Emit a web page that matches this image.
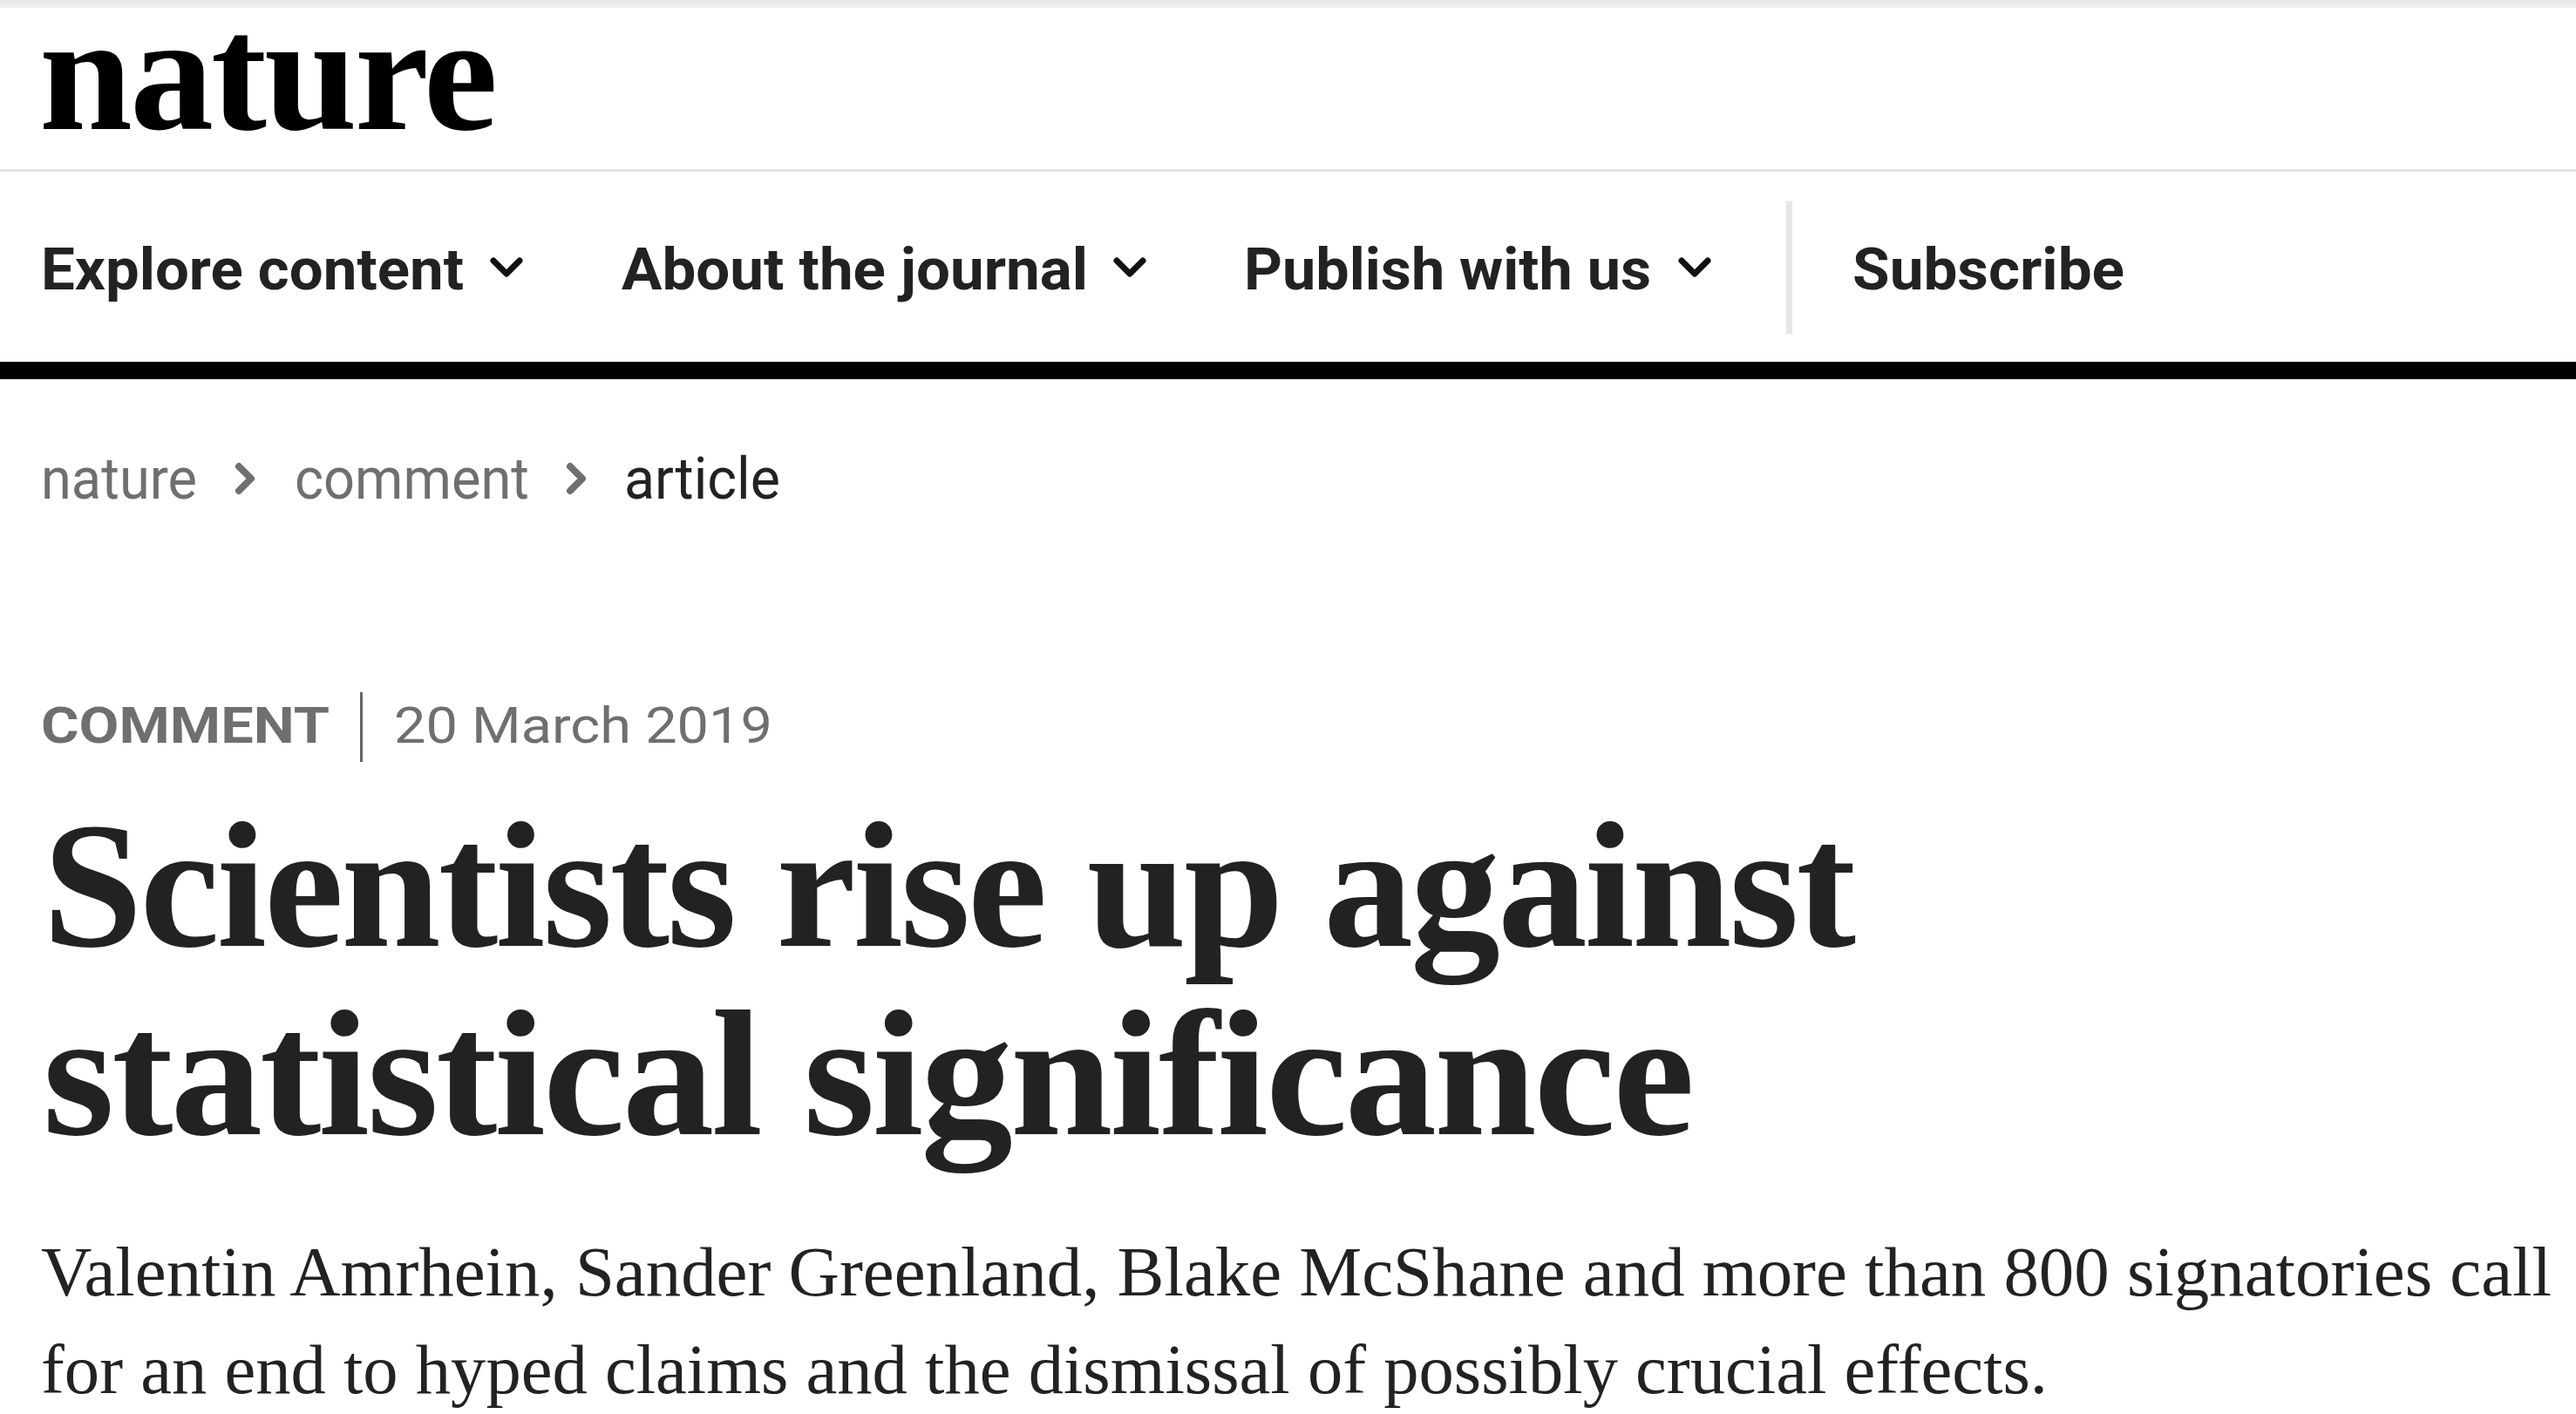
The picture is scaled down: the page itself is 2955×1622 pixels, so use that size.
<!DOCTYPE html>
<html>
<head>
<meta charset="utf-8">
<script src="https://cdn.jsdelivr.net/npm/chart.js@4.4.1/dist/chart.umd.min.js"></script>
<style>
  html, body { margin: 0; padding: 0; background: #fff; }
  body { width: 2955px; height: 1622px; position: relative; overflow: hidden; }
  .t { position: absolute; white-space: nowrap; transform-origin: 0 0; line-height: 1; }
  .logo { font-family: "Liberation Serif", serif; font-weight: 700; font-size: 190px; color: #000; letter-spacing: -3px; line-height: 0.72; }
  .nav { font-family: Roboto, "Liberation Sans", sans-serif; font-weight: 700; font-size: 67px; color: #222; }
  .crumb { font-family: Roboto, "Liberation Sans", sans-serif; font-weight: 400; font-size: 66px; color: #6f6f6f; }
  .crumb.cur { color: #222; }
  .kind { font-family: Roboto, "Liberation Sans", sans-serif; font-weight: 700; font-size: 57px; color: #6f6f6f; }
  .date { font-family: Roboto, "Liberation Sans", sans-serif; font-weight: 400; font-size: 57px; color: #6f6f6f; }
  .title { font-family: "Liberation Serif", serif; font-weight: 700; font-size: 206px; color: #222; letter-spacing: -3px; }
  .stand { font-family: "Liberation Serif", serif; font-weight: 400; font-size: 80px; color: #222; }
  .box { position: absolute; }
</style>
</head>
<body>
<script>
// page texts
var logoText = 'nature';
var navItems = ['Explore content', 'About the journal', 'Publish with us', 'Subscribe'];
var navHasMenu = [true, true, true, false];
var crumbs = ['nature', 'comment', 'article'];
var articleType = 'COMMENT';
var articleDate = '20 March 2019';
var titleLines = ['Scientists rise up against', 'statistical significance'];
var standfirstLines = [
  'Valentin Amrhein, Sander Greenland, Blake McShane and more than 800 signatories call',
  'for an end to hyped claims and the dismissal of possibly crucial effects.'
];

// layout (left x, baseline y, target width)
var navX = [47, 713, 1427, 2125], navW = [485, 535, 467, 312], navBase = 332;
var navChevX = [581, 1296, 1944];
var crumbX = [47, 338, 716], crumbW = [179, 269, 179], crumbBase = 572;
var crumbChevX = [270, 650];

function box(x, y, w, h, color) {
  var d = document.createElement('div');
  d.className = 'box';
  d.style.left = x + 'px'; d.style.top = y + 'px';
  d.style.width = w + 'px'; d.style.height = h + 'px';
  d.style.background = color;
  document.body.appendChild(d);
  return d;
}

function text(cls, str, x, base, w) {
  var el = document.createElement('div');
  el.className = 't ' + cls;
  el.textContent = str;
  document.body.appendChild(el);
  var probe = document.createElement('span');
  probe.style.display = 'inline-block';
  probe.style.width = '0'; probe.style.height = '0';
  el.appendChild(probe);
  var b = probe.offsetTop;
  var natural = el.getBoundingClientRect().width;
  el.style.left = x + 'px';
  el.style.top = (base - b) + 'px';
  if (w) el.style.transform = 'scaleX(' + (w / natural) + ')';
  return el;
}

function chevron(points, color, sw) {
  var ns = 'http://www.w3.org/2000/svg';
  var svg = document.createElementNS(ns, 'svg');
  svg.setAttribute('width', 2955); svg.setAttribute('height', 1622);
  svg.style.position = 'absolute'; svg.style.left = '0'; svg.style.top = '0';
  var p = document.createElementNS(ns, 'polyline');
  p.setAttribute('points', points);
  p.setAttribute('fill', 'none');
  p.setAttribute('stroke', color);
  p.setAttribute('stroke-width', sw);
  p.setAttribute('stroke-linecap', 'round');
  p.setAttribute('stroke-linejoin', 'round');
  svg.appendChild(p);
  document.body.appendChild(svg);
}

function build() {
  // top strip and header rules
  var strip = box(0, 0, 2955, 9, '#ececec');
  strip.style.background = 'linear-gradient(#e6e6e6, #f2f2f2)';
  box(0, 194, 2955, 3, '#e4e4e4');
  box(0, 415, 2955, 20, '#000');
  box(2049, 231, 7, 152, '#e6e6e6');

  text('logo', logoText, 45, 148, 523);

  navItems.forEach(function (s, i) {
    text('nav', s, navX[i], navBase, navW[i]);
    if (navHasMenu[i]) {
      var cx = navChevX[i];
      chevron((cx - 15) + ',299 ' + cx + ',314 ' + (cx + 15) + ',299', '#111', 7);
    }
  });

  crumbs.forEach(function (s, i) {
    text('crumb' + (i === crumbs.length - 1 ? ' cur' : ''), s, crumbX[i], crumbBase, crumbW[i]);
  });
  crumbChevX.forEach(function (x) {
    chevron((x + 4) + ',535 ' + (x + 18) + ',549 ' + (x + 4) + ',563', '#6f6f6f', 8);
  });

  text('kind', articleType, 47, 852, 331);
  box(413, 794, 3, 80, '#666');
  text('date', articleDate, 452, 852, 434);

  text('title', titleLines[0], 49, 1085, 2077);
  text('title', titleLines[1], 49, 1301, 1892);

  text('stand', standfirstLines[0], 47, 1486, 2880);
  text('stand', standfirstLines[1], 47, 1598, 2302);
}

if (document.fonts && document.fonts.ready) {
  document.fonts.ready.then(build);
} else {
  build();
}
</script>
</body>
</html>
